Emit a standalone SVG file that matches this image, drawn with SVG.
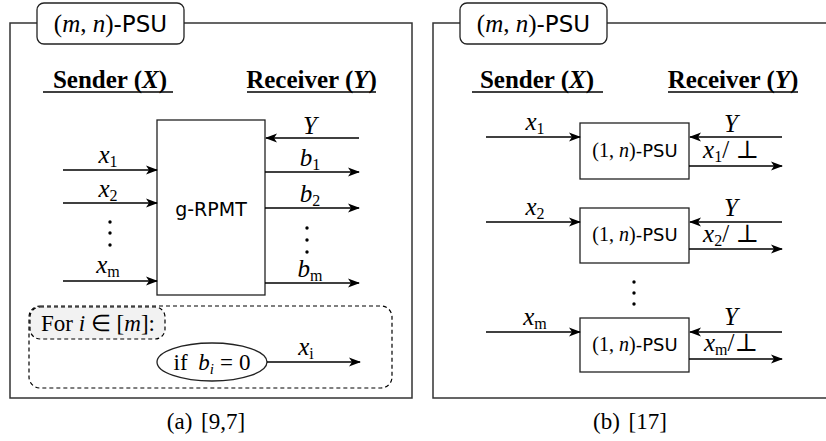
<svg xmlns="http://www.w3.org/2000/svg" width="826" height="441" viewBox="0 0 826 441">
<defs>
<marker id="ah" viewBox="0 0 12 10" markerWidth="12" markerHeight="10" refX="11" refY="5" orient="auto" markerUnits="userSpaceOnUse">
<path d="M0,0.5 L12,5 L0,9.5 L3,5 Z" fill="#000"/>
</marker>
<style>
.ln{stroke:#000;stroke-width:1.3;fill:none}
.ar{stroke:#000;stroke-width:1.3;fill:none;marker-end:url(#ah)}
.bx{stroke:#222;stroke-width:1.3;fill:#fff}
.fr{stroke:#333;stroke-width:1.5;fill:none}
.m{font-family:"Liberation Serif",serif;font-style:italic;font-size:25px;fill:#000}
.rm{font-family:"Liberation Serif","DejaVu Serif",serif;font-style:normal}
.sb{font-size:16px;font-style:normal}
.hd{font-family:"Liberation Serif",serif;font-weight:bold;font-size:25px;fill:#000}
.sa{font-family:"DejaVu Sans","Liberation Sans",sans-serif;font-style:normal}
.tt{font-family:"Liberation Serif",serif;font-size:25px;fill:#000}
.cap{font-family:"Liberation Serif",serif;font-size:23px;fill:#000}
.dots{fill:#000}
</style>
</defs>

<!-- Panel (a) -->
<g id="panel-a">
<rect class="fr" x="10" y="23" width="402" height="375"/>
<rect class="bx" x="37" y="3" width="147" height="41" rx="7"/>
<text class="tt" x="110.5" y="32" text-anchor="middle">(<tspan font-style="italic">m</tspan>, <tspan font-style="italic">n</tspan>)<tspan class="sa" font-size="23px">-PSU</tspan></text>
<text class="hd" x="110" y="88" text-anchor="middle">Sender (<tspan font-style="italic">X</tspan>)</text>
<line class="ln" x1="43" y1="92" x2="173" y2="92"/>
<text class="hd" x="311.5" y="88" text-anchor="middle">Receiver (<tspan font-style="italic">Y</tspan>)</text>
<line class="ln" x1="247" y1="92" x2="376" y2="92"/>
</g>

<g id="g-rpmt">
<rect class="bx" x="157" y="120" width="108" height="175"/>
<text class="sa" x="211" y="216" text-anchor="middle" font-size="19px">g-RPMT</text>
</g>

<g id="for-loop">
<rect x="29" y="306" width="363" height="82" rx="11" fill="none" stroke="#000" stroke-width="1.2" stroke-dasharray="4,3"/>
<rect x="30" y="307" width="135" height="32" rx="10" fill="#f2f2f2" stroke="#000" stroke-width="1.2" stroke-dasharray="4,3"/>
<text class="cap" x="41" y="331" font-size="23px">For <tspan font-style="italic">i</tspan> ∈ [<tspan font-style="italic">m</tspan>]:</text>
</g>

<g id="cond">
<ellipse class="bx" cx="212" cy="362" rx="55" ry="19"/>
<text class="cap" x="212" y="370" text-anchor="middle" font-size="24px">if <tspan font-style="italic" dx="5">b</tspan><tspan font-size="15px" font-style="italic" dy="4">i</tspan><tspan dy="-4" dx="6">=</tspan><tspan dx="6">0</tspan></text>
</g>

<g id="connectors-a">
<line class="ar" x1="63" y1="170" x2="157" y2="170"/>
<line class="ar" x1="63" y1="203" x2="157" y2="203"/>
<line class="ar" x1="63" y1="281" x2="157" y2="281"/>
<line class="ar" x1="359" y1="138" x2="266" y2="138"/>
<line class="ar" x1="265" y1="172" x2="359" y2="172"/>
<line class="ar" x1="265" y1="208" x2="359" y2="208"/>
<line class="ar" x1="265" y1="283" x2="359" y2="283"/>
<line class="ar" x1="267" y1="362" x2="360" y2="362"/>
</g>

<g id="labels-a">
<text class="m" x="108" y="163" text-anchor="middle">x<tspan class="sb" dy="4">1</tspan></text>
<text class="m" x="108" y="197" text-anchor="middle">x<tspan class="sb" dy="4">2</tspan></text>
<text class="m" x="108" y="273" text-anchor="middle">x<tspan class="sb" font-style="italic" dy="4">m</tspan></text>
<circle class="dots" cx="110" cy="222" r="1.7"/>
<circle class="dots" cx="110" cy="233" r="1.7"/>
<circle class="dots" cx="110" cy="245" r="1.7"/>
<text class="m" x="310" y="134" text-anchor="middle">Y</text>
<text class="m" x="310" y="166" text-anchor="middle">b<tspan class="sb" dy="4">1</tspan></text>
<text class="m" x="310" y="202" text-anchor="middle">b<tspan class="sb" dy="4">2</tspan></text>
<text class="m" x="310" y="277" text-anchor="middle">b<tspan class="sb" font-style="italic" dy="4">m</tspan></text>
<circle class="dots" cx="307" cy="228" r="1.7"/>
<circle class="dots" cx="307" cy="240" r="1.7"/>
<circle class="dots" cx="307" cy="252" r="1.7"/>
<text class="m" x="306" y="355" text-anchor="middle">x<tspan class="sb" font-style="italic" dy="4">i</tspan></text>
<text class="cap" x="206" y="429" text-anchor="middle" word-spacing="3">(a) [9,7]</text>
</g>

<!-- Panel (b) -->
<g id="panel-b">
<rect class="fr" x="433" y="23" width="400" height="375"/>
<rect class="bx" x="460" y="3" width="147" height="41" rx="7"/>
<text class="tt" x="533.5" y="32" text-anchor="middle">(<tspan font-style="italic">m</tspan>, <tspan font-style="italic">n</tspan>)<tspan class="sa" font-size="23px">-PSU</tspan></text>
<text class="hd" x="537" y="88" text-anchor="middle">Sender (<tspan font-style="italic">X</tspan>)</text>
<line class="ln" x1="472" y1="92" x2="603" y2="92"/>
<text class="hd" x="733" y="88" text-anchor="middle">Receiver (<tspan font-style="italic">Y</tspan>)</text>
<line class="ln" x1="668" y1="92" x2="798" y2="92"/>
<text class="cap" x="630" y="429" text-anchor="middle" word-spacing="3">(b) [17]</text>
</g>

<g id="psu-1">
<rect class="bx" x="580" y="123" width="109" height="56"/>
<text class="rm" x="635" y="157" text-anchor="middle" font-size="20px">(1, <tspan font-style="italic">n</tspan>)<tspan class="sa" font-size="18px">-PSU</tspan></text>
</g>
<g id="psu-2">
<rect class="bx" x="580" y="208" width="109" height="55"/>
<text class="rm" x="635" y="241" text-anchor="middle" font-size="20px">(1, <tspan font-style="italic">n</tspan>)<tspan class="sa" font-size="18px">-PSU</tspan></text>
</g>
<g id="psu-m">
<rect class="bx" x="580" y="318" width="109" height="54"/>
<text class="rm" x="635" y="351" text-anchor="middle" font-size="20px">(1, <tspan font-style="italic">n</tspan>)<tspan class="sa" font-size="18px">-PSU</tspan></text>
</g>

<g id="connectors-b">
<line class="ar" x1="486" y1="137" x2="580" y2="137"/>
<line class="ar" x1="782" y1="137" x2="690" y2="137"/>
<line class="ar" x1="689" y1="166" x2="782" y2="166"/>
<line class="ar" x1="486" y1="222" x2="580" y2="222"/>
<line class="ar" x1="782" y1="222" x2="690" y2="222"/>
<line class="ar" x1="689" y1="249" x2="782" y2="249"/>
<line class="ar" x1="486" y1="332" x2="580" y2="332"/>
<line class="ar" x1="782" y1="332" x2="690" y2="332"/>
<line class="ar" x1="689" y1="359" x2="782" y2="359"/>
</g>

<g id="labels-b">
<text class="m" x="535" y="130" text-anchor="middle">x<tspan class="sb" dy="4">1</tspan></text>
<text class="m" x="731" y="132" text-anchor="middle">Y</text>
<text class="m" x="731" y="158" text-anchor="middle" font-size="22px">x<tspan class="sb" dy="4" font-size="14px">1</tspan><tspan class="rm" dy="-4">/ ⊥</tspan></text>
<text class="m" x="535" y="215" text-anchor="middle">x<tspan class="sb" dy="4">2</tspan></text>
<text class="m" x="731" y="216" text-anchor="middle">Y</text>
<text class="m" x="731" y="242" text-anchor="middle" font-size="22px">x<tspan class="sb" dy="4" font-size="14px">2</tspan><tspan class="rm" dy="-4">/ ⊥</tspan></text>
<text class="m" x="535" y="325" text-anchor="middle">x<tspan class="sb" font-style="italic" dy="4">m</tspan></text>
<text class="m" x="731" y="325" text-anchor="middle">Y</text>
<text class="m" x="731" y="351" text-anchor="middle" font-size="22px">x<tspan class="sb" font-style="italic" dy="4" font-size="14px">m</tspan><tspan class="rm" dy="-4">/⊥</tspan></text>
<circle class="dots" cx="634" cy="282" r="1.7"/>
<circle class="dots" cx="634" cy="293" r="1.7"/>
<circle class="dots" cx="634" cy="304" r="1.7"/>
</g>
</svg>
